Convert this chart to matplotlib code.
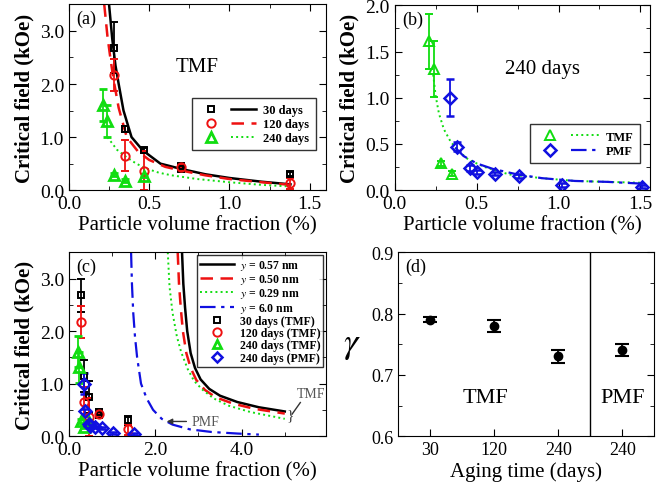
import matplotlib
matplotlib.use("Agg")
import matplotlib.pyplot as plt
from matplotlib.lines import Line2D
from matplotlib.legend_handler import HandlerTuple
from matplotlib.ticker import MultipleLocator, FormatStrFormatter

plt.rcParams["font.family"] = ["Liberation Serif", "DejaVu Serif"]
plt.rcParams["mathtext.fontset"] = "stix"

BLACK, RED, GREEN, BLUE = "black", "#ee1111", "#11dd11", "#1010e0"

# --- measured points, TMF (panels a and c) ---
sq_x = [0.28, 0.35, 0.47, 0.70, 0.70, 1.38]
sq_y = [2.68, 1.15, 0.75, 0.46, 0.40, 0.30]
sq_err = [0.48, 0.05, 0.05, 0.04, 0.04, 0.04]
sq_err_c = [0.32, 0.30, 0.30, 0.05, 0.05, 0.08]

ci_x = [0.28, 0.35, 0.47, 0.70, 1.38]
ci_y = [2.17, 0.65, 0.37, 0.43, 0.13]
ci_err = [0.30, 0.29, 0.36, 0.05, 0.10]

tr_x = [0.21, 0.24, 0.28, 0.35, 0.47]
tr_y = [1.61, 1.31, 0.29, 0.18, 0.27]
tr_err = [0.30, 0.30, 0.03, 0.03, 0.03]

# --- measured points, PMF 240 days (panels b and c) ---
di_x = [0.34, 0.38, 0.46, 0.50, 0.61, 0.76, 1.02, 1.51]
di_y = [1.00, 0.47, 0.24, 0.20, 0.18, 0.15, 0.06, 0.04]
di_err = [0.20, 0.05, 0.03, 0.02, 0.02, 0.02, 0.02, 0.02]

# --- fit curves, panel a ---
fit30_x = [0.25, 0.27, 0.29, 0.31, 0.34, 0.39, 0.46, 0.57, 0.70, 0.85, 1.0, 1.2, 1.38]
fit30_y = [3.5, 2.85, 2.35, 2.0, 1.5, 1.0, 0.75, 0.5, 0.40, 0.30, 0.23, 0.16, 0.11]
fit120_x = [0.22, 0.24, 0.26, 0.28, 0.31, 0.36, 0.43, 0.50, 0.60, 0.70, 0.85, 1.0, 1.2, 1.38]
fit120_y = [3.5, 2.9, 2.45, 2.05, 1.55, 1.0, 0.73, 0.57, 0.44, 0.37, 0.28, 0.21, 0.15, 0.10]
fit240_x = [0.24, 0.27, 0.30, 0.36, 0.42, 0.48, 0.56, 0.64, 0.80, 1.0, 1.2, 1.38]
fit240_y = [1.0, 0.88, 0.76, 0.62, 0.50, 0.41, 0.33, 0.28, 0.21, 0.15, 0.10, 0.07]

# --- fit curves, panel b ---
tmf_x = [0.235, 0.25, 0.27, 0.30, 0.34, 0.38, 0.45, 0.55, 0.70, 0.90, 1.1, 1.3, 1.52]
tmf_y = [1.25, 1.02, 0.83, 0.66, 0.53, 0.44, 0.33, 0.25, 0.17, 0.13, 0.10, 0.09, 0.08]
pmf_x = [0.37, 0.42, 0.50, 0.60, 0.75, 0.90, 1.1, 1.3, 1.52]
pmf_y = [0.46, 0.37, 0.29, 0.23, 0.17, 0.13, 0.10, 0.09, 0.07]

# --- model curves, panel c ---
g57_x = [2.62, 2.65, 2.69, 2.74, 2.82, 2.92, 3.05, 3.25, 3.5, 3.9, 4.4, 5.0]
g57_y = [3.5, 2.9, 2.45, 2.0, 1.58, 1.3, 1.08, 0.90, 0.77, 0.65, 0.55, 0.47]
g50_x = [2.52, 2.55, 2.59, 2.64, 2.72, 2.82, 2.95, 3.15, 3.4, 3.8, 4.3, 5.0]
g50_y = [3.5, 2.9, 2.45, 2.0, 1.58, 1.3, 1.07, 0.88, 0.74, 0.62, 0.52, 0.43]
g29_x = [2.29, 2.33, 2.40, 2.50, 2.60, 2.75, 2.90, 3.1, 3.35, 3.7, 4.2, 5.0]
g29_y = [3.5, 2.85, 2.35, 1.9, 1.6, 1.28, 1.05, 0.88, 0.72, 0.58, 0.46, 0.33]
g60_x = [1.44, 1.46, 1.49, 1.53, 1.58, 1.67, 1.80, 1.95, 2.15, 2.4, 2.8, 3.3, 3.9, 4.4]
g60_y = [3.5, 2.9, 2.35, 1.9, 1.5, 1.0, 0.72, 0.50, 0.33, 0.22, 0.13, 0.08, 0.05, 0.03]

# --- panel d ---
d_pos = [1, 2, 3, 4]
d_labels = ["30", "120", "240", "240"]
gamma = [0.79, 0.78, 0.73, 0.74]
gamma_err = [0.004, 0.01, 0.01, 0.01]

LBL = 15
TICK = 14


def style(ax, xmaj, xmin, ymaj, ymin):
    ax.xaxis.set_major_locator(MultipleLocator(xmaj))
    ax.xaxis.set_minor_locator(MultipleLocator(xmin))
    ax.yaxis.set_major_locator(MultipleLocator(ymaj))
    ax.yaxis.set_minor_locator(MultipleLocator(ymin))
    ax.xaxis.set_major_formatter(FormatStrFormatter("%.1f"))
    ax.yaxis.set_major_formatter(FormatStrFormatter("%.1f"))
    ax.tick_params(which="both", direction="in", top=True, right=True, labelsize=TICK)
    ax.tick_params(which="major", length=5)
    ax.tick_params(which="minor", length=3)
    ax.set_xlabel("Particle volume fraction (%)", fontsize=LBL, labelpad=2)
    ax.set_ylabel("Critical field (kOe)", fontsize=LBL, fontweight="bold", labelpad=4)


def pts(ax, x, y, err, marker, color, ms=6, mew=1.4):
    ax.errorbar(x, y, yerr=err, fmt=marker, ms=ms, mfc="none", mec=color, mew=mew,
                ecolor=color, elinewidth=1.3, capsize=3, capthick=1.3)


fig = plt.figure(figsize=(6.69, 4.89), dpi=100)
ax_a = fig.add_axes([0.103, 0.609, 0.384, 0.380])
ax_b = fig.add_axes([0.590, 0.609, 0.382, 0.378])
ax_c = fig.add_axes([0.103, 0.106, 0.384, 0.376])
ax_d = fig.add_axes([0.595, 0.106, 0.383, 0.376])

# ---------- (a) ----------
ax_a.plot(fit30_x, fit30_y, color=BLACK, lw=1.8)
ax_a.plot(fit120_x, fit120_y, color=RED, lw=1.8, ls=(0, (5, 3)))
ax_a.plot(fit240_x, fit240_y, color=GREEN, lw=1.4, ls=":")
pts(ax_a, sq_x, sq_y, sq_err, "s", BLACK, ms=5)
pts(ax_a, ci_x, ci_y, ci_err, "o", RED)
pts(ax_a, tr_x, tr_y, tr_err, "^", GREEN, ms=7, mew=2)
ax_a.set_xlim(0, 1.6)
ax_a.set_ylim(0, 3.5)
style(ax_a, 0.5, 0.25, 1.0, 0.5)
ax_a.text(0.80, 2.33, "TMF", fontsize=15, ha="center", va="center")
ax_a.text(0.03, 0.97, "(a)", transform=ax_a.transAxes, fontsize=13, ha="left", va="top")
h = [
    (Line2D([], [], marker="s", ms=5, mfc="none", mec=BLACK, mew=1.4, ls="none"),
     Line2D([], [], color=BLACK, lw=1.8)),
    (Line2D([], [], marker="o", ms=6, mfc="none", mec=RED, mew=1.4, ls="none"),
     Line2D([], [], color=RED, lw=1.8, ls=(0, (5, 3)))),
    (Line2D([], [], marker="^", ms=7, mfc="none", mec=GREEN, mew=2, ls="none"),
     Line2D([], [], color=GREEN, lw=1.4, ls=":")),
]
ax_a.legend(h, ["30 days", "120 days", "240 days"], handler_map={tuple: HandlerTuple(ndivide=None, pad=0.6)},
            loc="center right", bbox_to_anchor=(0.985, 0.355), fancybox=False, edgecolor="black",
            handlelength=4.6, prop={"size": 9, "weight": "bold"}, labelspacing=0.15,
            borderpad=0.5, handletextpad=0.6)

# ---------- (b) ----------
ax_b.plot(tmf_x, tmf_y, color=GREEN, lw=1.4, ls=":")
ax_b.plot(pmf_x, pmf_y, color=BLUE, lw=1.6, ls=(0, (7, 2.5, 1.5, 2.5)))
pts(ax_b, tr_x[:4], tr_y[:4], tr_err[:4], "^", GREEN, ms=7, mew=1.4)
pts(ax_b, di_x, di_y, di_err, "D", BLUE, ms=6, mew=1.8)
ax_b.set_xlim(0, 1.56)
ax_b.set_ylim(0, 2.0)
style(ax_b, 0.5, 0.25, 0.5, 0.25)
ax_b.text(0.90, 1.32, "240 days", fontsize=15, ha="center", va="center")
ax_b.text(0.03, 0.97, "(b)", transform=ax_b.transAxes, fontsize=13, ha="left", va="top")
h = [
    (Line2D([], [], marker="^", ms=7, mfc="none", mec=GREEN, mew=1.4, ls="none"),
     Line2D([], [], color=GREEN, lw=1.4, ls=":")),
    (Line2D([], [], marker="D", ms=6, mfc="none", mec=BLUE, mew=1.8, ls="none"),
     Line2D([], [], color=BLUE, lw=1.6, ls=(0, (7, 2.5, 1.5, 2.5)))),
]
ax_b.legend(h, ["TMF", "PMF"], handler_map={tuple: HandlerTuple(ndivide=None, pad=0.6)},
            loc="center right", bbox_to_anchor=(0.985, 0.25), fancybox=False, edgecolor="black",
            handlelength=5.0, prop={"size": 9, "weight": "bold"}, labelspacing=0.2,
            borderpad=0.5, handletextpad=0.6)

# ---------- (c) ----------
l1, = ax_c.plot(g57_x, g57_y, color=BLACK, lw=1.8)
l2, = ax_c.plot(g50_x, g50_y, color=RED, lw=1.8, ls=(0, (5, 3)))
l3, = ax_c.plot(g29_x, g29_y, color=GREEN, lw=1.4, ls=":")
l4, = ax_c.plot(g60_x, g60_y, color=BLUE, lw=1.6, ls=(0, (7, 2.5, 1.5, 2.5)))
pts(ax_c, sq_x, sq_y, sq_err_c, "s", BLACK, ms=5)
pts(ax_c, ci_x, ci_y, ci_err, "o", RED)
pts(ax_c, tr_x, tr_y, tr_err, "^", GREEN, ms=7, mew=2)
pts(ax_c, di_x, di_y, di_err, "D", BLUE, ms=6, mew=1.8)
ax_c.set_xlim(0, 5.95)
ax_c.set_ylim(0, 3.5)
style(ax_c, 2.0, 1.0, 1.0, 0.5)
ax_c.text(0.03, 0.97, "(c)", transform=ax_c.transAxes, fontsize=13, ha="left", va="top")
ax_c.annotate("PMF", xy=(2.2, 0.28), xytext=(2.85, 0.28), fontsize=10, color="#555555",
              ha="left", va="center",
              arrowprops=dict(arrowstyle="-|>", color="#333333", lw=1, mutation_scale=8))
ax_c.text(5.05, 0.40, "}", fontsize=11, color="#333333", ha="left", va="center")
ax_c.plot([5.17, 5.36], [0.42, 0.64], color="#333333", lw=1)
ax_c.text(5.62, 0.82, "TMF", fontsize=10, color="#555555", ha="center", va="center")
h = [l1, l2, l3, l4,
     Line2D([], [], marker="s", ms=5, mfc="none", mec=BLACK, mew=1.4, ls="none"),
     Line2D([], [], marker="o", ms=6, mfc="none", mec=RED, mew=1.4, ls="none"),
     Line2D([], [], marker="^", ms=6, mfc="none", mec=GREEN, mew=2, ls="none"),
     Line2D([], [], marker="D", ms=5.5, mfc="none", mec=BLUE, mew=1.8, ls="none")]
labels = ["$y$ = 0.57 nm", "$y$ = 0.50 nm", "$y$ = 0.29 nm", "$y$ = 6.0 nm",
          "30 days (TMF)", "120 days (TMF)", "240 days (TMF)", "240 days (PMF)"]
ax_c.legend(h, labels, loc="upper right", bbox_to_anchor=(0.99, 0.985), fancybox=False,
            edgecolor="black", handlelength=2.9, prop={"size": 8.5, "weight": "bold"},
            labelspacing=0.02, borderpad=0.25, handletextpad=0.5, borderaxespad=0)

# ---------- (d) ----------
ax_d.errorbar(d_pos, gamma, yerr=gamma_err, fmt="o", ms=6, color=BLACK, ecolor=BLACK,
              elinewidth=1.3, capsize=5, capthick=1.5)
ax_d.axvline(3.5, color=BLACK, lw=1)
ax_d.set_xlim(0.5, 4.5)
ax_d.set_ylim(0.6, 0.9)
ax_d.set_xticks(d_pos)
ax_d.set_xticklabels(d_labels)
ax_d.yaxis.set_major_locator(MultipleLocator(0.1))
ax_d.yaxis.set_minor_locator(MultipleLocator(0.05))
ax_d.yaxis.set_major_formatter(FormatStrFormatter("%.1f"))
ax_d.tick_params(which="both", direction="in", right=True, labelsize=13)
ax_d.tick_params(which="major", length=5)
ax_d.tick_params(which="minor", length=3)
ax_d.set_xlabel("Aging time (days)", fontsize=15, labelpad=2)
ax_d.set_ylabel(r"$\gamma$", fontsize=26, rotation=0, labelpad=14, va="center")
ax_d.text(1.87, 0.663, "TMF", fontsize=16, ha="center", va="center")
ax_d.text(4.0, 0.663, "PMF", fontsize=16, ha="center", va="center")
ax_d.text(0.03, 0.97, "(d)", transform=ax_d.transAxes, fontsize=13, ha="left", va="top")

fig.savefig("out.png", dpi=100)
